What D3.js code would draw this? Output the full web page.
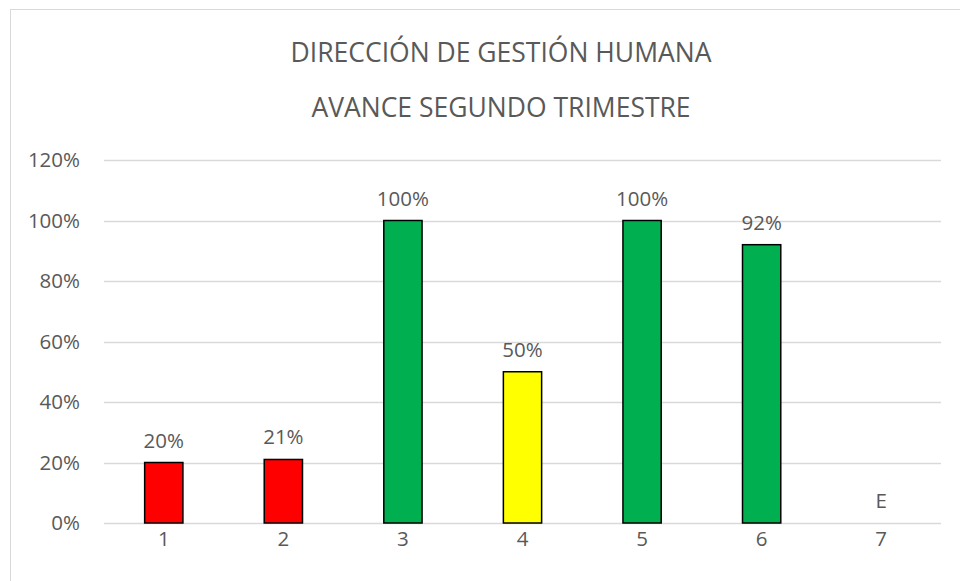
<!DOCTYPE html>
<html><head><meta charset="utf-8">
<script src="https://cdn.jsdelivr.net/npm/d3@7"></script>
<style>body{margin:0;background:#fff}svg{display:block}text{font-family:"Open Sans",sans-serif;fill:#595959}</style>
</head><body>
<script>
const categories = ["1","2","3","4","5","6","7"];
const values = [0.20, 0.21, 1.00, 0.50, 1.00, 0.92, 0];
const labels = ["20%","21%","100%","50%","100%","92%","E"];
const colors = ["#FF0000","#FF0000","#00B050","#FFFF00","#00B050","#00B050","#00B050"];
const yTicks = [0,0.2,0.4,0.6,0.8,1.0,1.2];
const titleLines = ["DIRECCIÓN DE GESTIÓN HUMANA","AVANCE SEGUNDO TRIMESTRE"];

const W=960,H=581;
const svg=d3.select("body").append("svg").attr("width",W).attr("height",H);
svg.append("rect").attr("x",10.5).attr("y",9.5).attr("width",W).attr("height",H).attr("fill","#fff").attr("stroke","#d9d9d9").attr("stroke-width",1);

const x=d3.scaleBand().domain(categories).range([104,941]).paddingInner(0.68).paddingOuter(0.34);
const y=d3.scaleLinear().domain([0,1.2]).range([523,160]);

svg.append("g").selectAll("line").data(yTicks).join("line")
 .attr("x1",104).attr("x2",941).attr("y1",d=>Math.round(y(d))+0.5).attr("y2",d=>Math.round(y(d))+0.5)
 .attr("stroke","#d9d9d9").attr("stroke-width",1.5);

const ya=svg.append("g").attr("transform","translate(104,0)")
 .call(d3.axisLeft(y).tickValues(yTicks).tickFormat(d3.format(".0%")).tickSize(0).tickPadding(24));
ya.select(".domain").remove();
ya.selectAll("text").style("font-size","20.5px").attr("fill","#595959").style("font-family","'Open Sans',sans-serif");

const xa=svg.append("g").attr("transform","translate(0,523)")
 .call(d3.axisBottom(x).tickSize(0).tickPadding(8));
xa.select(".domain").remove();
xa.selectAll("text").style("font-size","20.5px").attr("fill","#595959").style("font-family","'Open Sans',sans-serif");

svg.append("g").selectAll("rect").data(values.map((v,i)=>({v,i})).filter(d=>d.v>0)).join("rect")
 .attr("x",d=>x(categories[d.i]))
 .attr("y",d=>y(d.v)).attr("width",x.bandwidth()).attr("height",d=>y(0)-y(d.v))
 .attr("fill",d=>colors[d.i]).attr("stroke","#000").attr("stroke-width",1.5);

svg.append("g").selectAll("text").data(values).join("text")
 .attr("x",(d,i)=>x(categories[i])+x.bandwidth()/2)
 .attr("y",d=>y(d)-15)
 .attr("text-anchor","middle").style("font-size","20.5px").text((d,i)=>labels[i]);

svg.append("g").selectAll("text").data(titleLines).join("text")
 .attr("x",501).attr("y",(d,i)=>62+i*55).attr("text-anchor","middle")
 .style("font-size","26.5px").text(d=>d);
</script>
</body></html>
